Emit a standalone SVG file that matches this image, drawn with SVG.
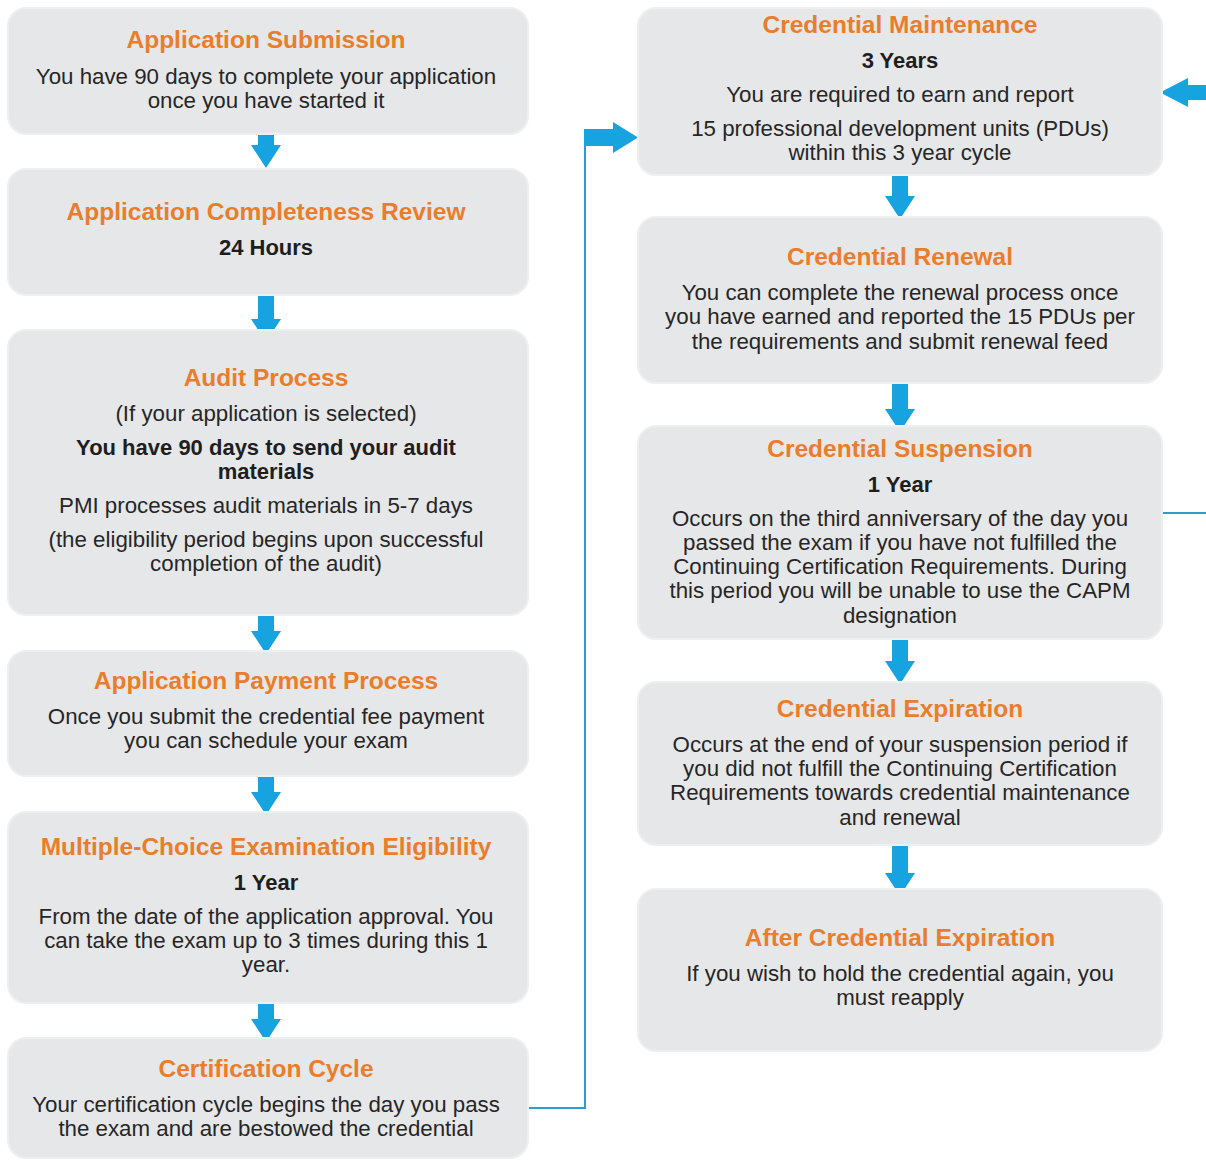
<svg xmlns="http://www.w3.org/2000/svg" xmlns:xlink="http://www.w3.org/1999/xlink" width="1206" height="1160" viewBox="0 0 1206 1160">
<style>
.box{fill:#e6e7e9;stroke:#eeeff0;stroke-width:2}
.t{font-family:"Liberation Sans",Arial,sans-serif;font-size:24.5px;font-weight:bold;fill:#ea7d2c;text-anchor:middle}
.b{font-family:"Liberation Sans",Arial,sans-serif;font-size:22.3px;fill:#262626;text-anchor:middle}
.bb{font-family:"Liberation Sans",Arial,sans-serif;font-size:22px;font-weight:bold;fill:#1e1e1e;text-anchor:middle}
.arr{fill:#17a2e0}
.ln{fill:none;stroke:#2a9fcb;stroke-width:2}
</style>
<defs>
<path id="down" d="M-8,0 H8 V28 H15 L0,51 L-15,28 H-8 Z"/>
</defs>
<rect width="1206" height="1160" fill="#ffffff"/>

<g id="connectors">
<polyline class="ln" points="528,1108 585,1108 585,140"/>
<path class="arr" d="M584,129 H613 V122 L638,137.5 L613,153 V146 H584 Z"/>
<line class="ln" x1="1162" y1="513" x2="1206" y2="513"/>
<path class="arr" d="M1206,85 H1188 V78 L1160,92.5 L1188,107 V100 H1206 Z"/>
<use href="#down" class="arr" x="266" y="117"/>
<use href="#down" class="arr" x="266" y="291"/>
<use href="#down" class="arr" x="266" y="603"/>
<use href="#down" class="arr" x="266" y="764"/>
<use href="#down" class="arr" x="266" y="991"/>
<use href="#down" class="arr" x="900" y="168"/>
<use href="#down" class="arr" x="900" y="381"/>
<use href="#down" class="arr" x="900" y="633"/>
<use href="#down" class="arr" x="900" y="845"/>
</g>

<g id="n1">
<rect class="box" x="8" y="8" width="520" height="126" rx="18"/>
<text class="t" x="266" y="48">Application Submission</text>
<text class="b" x="266" y="84">You have 90 days to complete your application</text>
<text class="b" x="266" y="108">once you have started it</text>
</g>
<g id="n2">
<rect class="box" x="8" y="169" width="520" height="126" rx="18"/>
<text class="t" x="266" y="220">Application Completeness Review</text>
<text class="bb" x="266" y="255">24 Hours</text>
</g>
<g id="n3">
<rect class="box" x="8" y="330" width="520" height="285" rx="18"/>
<text class="t" x="266" y="386">Audit Process</text>
<text class="b" x="266" y="421">(If your application is selected)</text>
<text class="bb" x="266" y="455">You have 90 days to send your audit</text>
<text class="bb" x="266" y="479">materials</text>
<text class="b" x="266" y="513">PMI processes audit materials in 5-7 days</text>
<text class="b" x="266" y="547">(the eligibility period begins upon successful</text>
<text class="b" x="266" y="571">completion of the audit)</text>
</g>
<g id="n4">
<rect class="box" x="8" y="651" width="520" height="125" rx="18"/>
<text class="t" x="266" y="689">Application Payment Process</text>
<text class="b" x="266" y="724">Once you submit the credential fee payment</text>
<text class="b" x="266" y="748">you can schedule your exam</text>
</g>
<g id="n5">
<rect class="box" x="8" y="812" width="520" height="191" rx="18"/>
<text class="t" x="266" y="855">Multiple-Choice Examination Eligibility</text>
<text class="bb" x="266" y="890">1 Year</text>
<text class="b" x="266" y="924">From the date of the application approval. You</text>
<text class="b" x="266" y="948">can take the exam up to 3 times during this 1</text>
<text class="b" x="266" y="972">year.</text>
</g>
<g id="n6">
<rect class="box" x="8" y="1038" width="520" height="120" rx="18"/>
<text class="t" x="266" y="1077">Certification Cycle</text>
<text class="b" x="266" y="1112">Your certification cycle begins the day you pass</text>
<text class="b" x="266" y="1136">the exam and are bestowed the credential</text>
</g>

<g id="r1">
<rect class="box" x="638" y="8" width="524" height="167" rx="18"/>
<text class="t" x="900" y="33">Credential Maintenance</text>
<text class="bb" x="900" y="68">3 Years</text>
<text class="b" x="900" y="102">You are required to earn and report</text>
<text class="b" x="900" y="136">15 professional development units (PDUs)</text>
<text class="b" x="900" y="160">within this 3 year cycle</text>
</g>
<g id="r2">
<rect class="box" x="638" y="217" width="524" height="166" rx="18"/>
<text class="t" x="900" y="265">Credential Renewal</text>
<text class="b" x="900" y="300">You can complete the renewal process once</text>
<text class="b" x="900" y="324">you have earned and reported the 15 PDUs per</text>
<text class="b" x="900" y="349">the requirements and submit renewal feed</text>
</g>
<g id="r3">
<rect class="box" x="638" y="426" width="524" height="213" rx="18"/>
<text class="t" x="900" y="457">Credential Suspension</text>
<text class="bb" x="900" y="492">1 Year</text>
<text class="b" x="900" y="526">Occurs on the third anniversary of the day you</text>
<text class="b" x="900" y="550">passed the exam if you have not fulfilled the</text>
<text class="b" x="900" y="574">Continuing Certification Requirements. During</text>
<text class="b" x="900" y="598">this period you will be unable to use the CAPM</text>
<text class="b" x="900" y="623">designation</text>
</g>
<g id="r4">
<rect class="box" x="638" y="682" width="524" height="163" rx="18"/>
<text class="t" x="900" y="717">Credential Expiration</text>
<text class="b" x="900" y="752">Occurs at the end of your suspension period if</text>
<text class="b" x="900" y="776">you did not fulfill the Continuing Certification</text>
<text class="b" x="900" y="800">Requirements towards credential maintenance</text>
<text class="b" x="900" y="825">and renewal</text>
</g>
<g id="r5">
<rect class="box" x="638" y="889" width="524" height="162" rx="18"/>
<text class="t" x="900" y="946">After Credential Expiration</text>
<text class="b" x="900" y="981">If you wish to hold the credential again, you</text>
<text class="b" x="900" y="1005">must reapply</text>
</g>
</svg>
